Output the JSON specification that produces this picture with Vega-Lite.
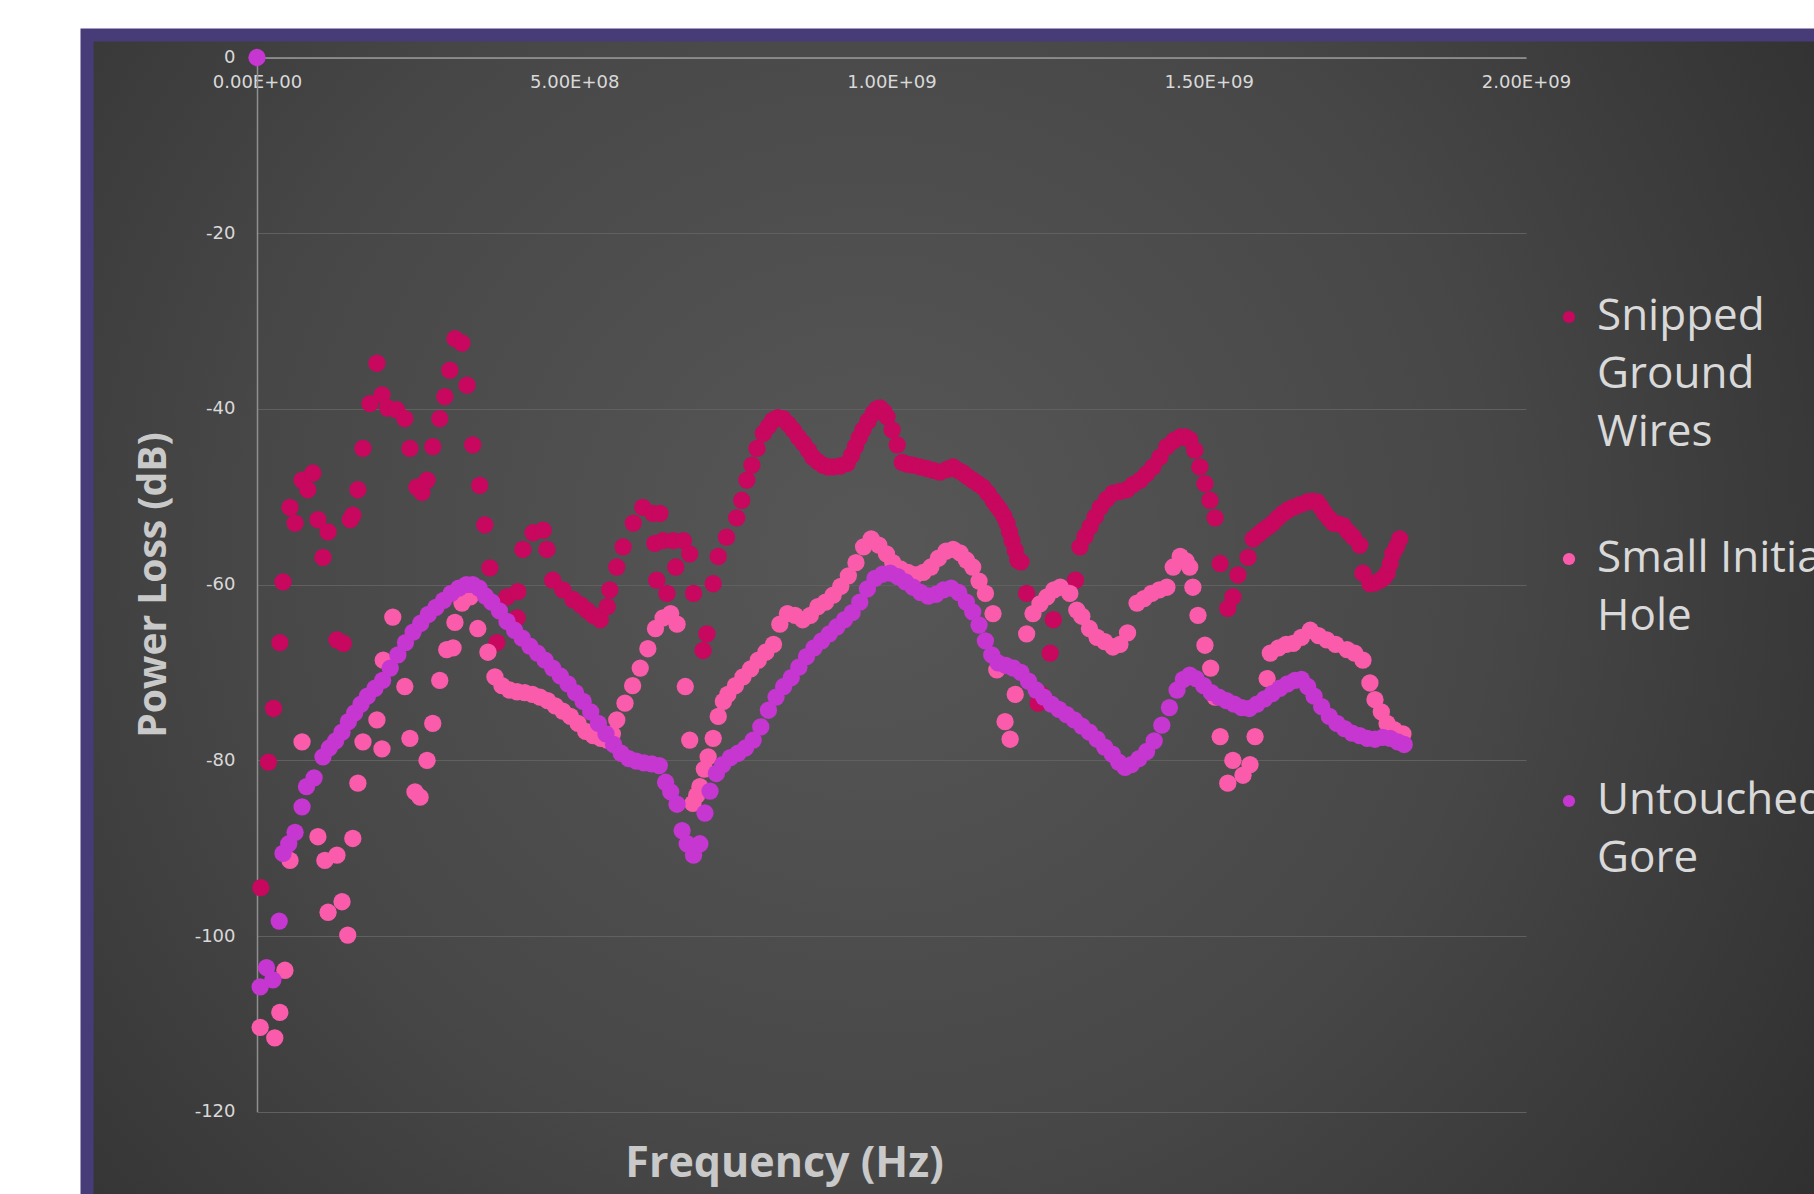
{
  "$schema": "https://vega.github.io/schema/vega-lite/v6.json",
  "width": 1734,
  "height": 1166,
  "autosize": {"type": "none"},
  "padding": {"left": 87, "top": 35, "right": -7, "bottom": -7},
  "background": "#ffffff",
  "config": {
    "view": {
      "fill": {"gradient": "radial", "x1": 0.45, "y1": 0.46, "r1": 0, "x2": 0.45, "y2": 0.46, "r2": 0.72,
        "stops": [{"offset": 0, "color": "#575757"}, {"offset": 0.5, "color": "#474747"}, {"offset": 1, "color": "#2b2b2b"}]},
      "stroke": "#483c78",
      "strokeWidth": 13
    },
    "style": {"guide-label": {"lineHeight": 58}}
  },
  "data": {"values": [
    {"s":"Snipped Ground Wires","f":6e6,"db":-94.5},
    {"s":"Snipped Ground Wires","f":18e6,"db":-80.2},
    {"s":"Snipped Ground Wires","f":26e6,"db":-74.1},
    {"s":"Snipped Ground Wires","f":36e6,"db":-66.6},
    {"s":"Snipped Ground Wires","f":41e6,"db":-59.7},
    {"s":"Snipped Ground Wires","f":52e6,"db":-51.2},
    {"s":"Snipped Ground Wires","f":60e6,"db":-53},
    {"s":"Snipped Ground Wires","f":71e6,"db":-48.1},
    {"s":"Snipped Ground Wires","f":80e6,"db":-49.2},
    {"s":"Snipped Ground Wires","f":88e6,"db":-47.3},
    {"s":"Snipped Ground Wires","f":96e6,"db":-52.6},
    {"s":"Snipped Ground Wires","f":104e6,"db":-56.9},
    {"s":"Snipped Ground Wires","f":112e6,"db":-54},
    {"s":"Snipped Ground Wires","f":126e6,"db":-66.3},
    {"s":"Snipped Ground Wires","f":136e6,"db":-66.7},
    {"s":"Snipped Ground Wires","f":147e6,"db":-52.6},
    {"s":"Snipped Ground Wires","f":151e6,"db":-52.1},
    {"s":"Snipped Ground Wires","f":159e6,"db":-49.2},
    {"s":"Snipped Ground Wires","f":167e6,"db":-44.5},
    {"s":"Snipped Ground Wires","f":178e6,"db":-39.4},
    {"s":"Snipped Ground Wires","f":189e6,"db":-34.8},
    {"s":"Snipped Ground Wires","f":197e6,"db":-38.4},
    {"s":"Snipped Ground Wires","f":206e6,"db":-39.9},
    {"s":"Snipped Ground Wires","f":220e6,"db":-40.1},
    {"s":"Snipped Ground Wires","f":233e6,"db":-41.1},
    {"s":"Snipped Ground Wires","f":241e6,"db":-44.5},
    {"s":"Snipped Ground Wires","f":252e6,"db":-48.9},
    {"s":"Snipped Ground Wires","f":260e6,"db":-49.5},
    {"s":"Snipped Ground Wires","f":268e6,"db":-48.1},
    {"s":"Snipped Ground Wires","f":277e6,"db":-44.3},
    {"s":"Snipped Ground Wires","f":288e6,"db":-41.1},
    {"s":"Snipped Ground Wires","f":296e6,"db":-38.6},
    {"s":"Snipped Ground Wires","f":304e6,"db":-35.6},
    {"s":"Snipped Ground Wires","f":312e6,"db":-32},
    {"s":"Snipped Ground Wires","f":323e6,"db":-32.5},
    {"s":"Snipped Ground Wires","f":331e6,"db":-37.3},
    {"s":"Snipped Ground Wires","f":340e6,"db":-44.1},
    {"s":"Snipped Ground Wires","f":351e6,"db":-48.7},
    {"s":"Snipped Ground Wires","f":359e6,"db":-53.2},
    {"s":"Snipped Ground Wires","f":367e6,"db":-58.1},
    {"s":"Snipped Ground Wires","f":378e6,"db":-66.6},
    {"s":"Snipped Ground Wires","f":394e6,"db":-61.4},
    {"s":"Snipped Ground Wires","f":410e6,"db":-63.8},
    {"s":"Snipped Ground Wires","f":411e6,"db":-60.8},
    {"s":"Snipped Ground Wires","f":419e6,"db":-56},
    {"s":"Snipped Ground Wires","f":435e6,"db":-54.1},
    {"s":"Snipped Ground Wires","f":451e6,"db":-53.8},
    {"s":"Snipped Ground Wires","f":457e6,"db":-56},
    {"s":"Snipped Ground Wires","f":466e6,"db":-59.5},
    {"s":"Snipped Ground Wires","f":482e6,"db":-60.6},
    {"s":"Snipped Ground Wires","f":498e6,"db":-61.7},
    {"s":"Snipped Ground Wires","f":510e6,"db":-62.3},
    {"s":"Snipped Ground Wires","f":520e6,"db":-62.9},
    {"s":"Snipped Ground Wires","f":530e6,"db":-63.5},
    {"s":"Snipped Ground Wires","f":541e6,"db":-64},
    {"s":"Snipped Ground Wires","f":552e6,"db":-62.5},
    {"s":"Snipped Ground Wires","f":556e6,"db":-60.6},
    {"s":"Snipped Ground Wires","f":567e6,"db":-58},
    {"s":"Snipped Ground Wires","f":577e6,"db":-55.7},
    {"s":"Snipped Ground Wires","f":593e6,"db":-53},
    {"s":"Snipped Ground Wires","f":608e6,"db":-51.2},
    {"s":"Snipped Ground Wires","f":624e6,"db":-51.9},
    {"s":"Snipped Ground Wires","f":627e6,"db":-55.3},
    {"s":"Snipped Ground Wires","f":630e6,"db":-59.5},
    {"s":"Snipped Ground Wires","f":635e6,"db":-51.9},
    {"s":"Snipped Ground Wires","f":640e6,"db":-55},
    {"s":"Snipped Ground Wires","f":646e6,"db":-61},
    {"s":"Snipped Ground Wires","f":656e6,"db":-55},
    {"s":"Snipped Ground Wires","f":660e6,"db":-58},
    {"s":"Snipped Ground Wires","f":672e6,"db":-55},
    {"s":"Snipped Ground Wires","f":682e6,"db":-56.5},
    {"s":"Snipped Ground Wires","f":688e6,"db":-61},
    {"s":"Snipped Ground Wires","f":703e6,"db":-67.5},
    {"s":"Snipped Ground Wires","f":709e6,"db":-65.6},
    {"s":"Snipped Ground Wires","f":719e6,"db":-59.9},
    {"s":"Snipped Ground Wires","f":727e6,"db":-56.8},
    {"s":"Snipped Ground Wires","f":740e6,"db":-54.6},
    {"s":"Snipped Ground Wires","f":756e6,"db":-52.4},
    {"s":"Snipped Ground Wires","f":764e6,"db":-50.4},
    {"s":"Snipped Ground Wires","f":772e6,"db":-48.1},
    {"s":"Snipped Ground Wires","f":780e6,"db":-46.4},
    {"s":"Snipped Ground Wires","f":788e6,"db":-44.5},
    {"s":"Snipped Ground Wires","f":798e6,"db":-42.8},
    {"s":"Snipped Ground Wires","f":806e6,"db":-42},
    {"s":"Snipped Ground Wires","f":813e6,"db":-41.3},
    {"s":"Snipped Ground Wires","f":821e6,"db":-41},
    {"s":"Snipped Ground Wires","f":829e6,"db":-41.1},
    {"s":"Snipped Ground Wires","f":837e6,"db":-41.7},
    {"s":"Snipped Ground Wires","f":845e6,"db":-42.4},
    {"s":"Snipped Ground Wires","f":853e6,"db":-43.2},
    {"s":"Snipped Ground Wires","f":861e6,"db":-43.9},
    {"s":"Snipped Ground Wires","f":869e6,"db":-44.7},
    {"s":"Snipped Ground Wires","f":876e6,"db":-45.5},
    {"s":"Snipped Ground Wires","f":884e6,"db":-46},
    {"s":"Snipped Ground Wires","f":892e6,"db":-46.4},
    {"s":"Snipped Ground Wires","f":900e6,"db":-46.6},
    {"s":"Snipped Ground Wires","f":908e6,"db":-46.6},
    {"s":"Snipped Ground Wires","f":919e6,"db":-46.5},
    {"s":"Snipped Ground Wires","f":930e6,"db":-46.2},
    {"s":"Snipped Ground Wires","f":937e6,"db":-45.3},
    {"s":"Snipped Ground Wires","f":943e6,"db":-44.3},
    {"s":"Snipped Ground Wires","f":949e6,"db":-43.3},
    {"s":"Snipped Ground Wires","f":955e6,"db":-42.4},
    {"s":"Snipped Ground Wires","f":963e6,"db":-41.4},
    {"s":"Snipped Ground Wires","f":971e6,"db":-40.5},
    {"s":"Snipped Ground Wires","f":977e6,"db":-40},
    {"s":"Snipped Ground Wires","f":982e6,"db":-39.9},
    {"s":"Snipped Ground Wires","f":988e6,"db":-40.3},
    {"s":"Snipped Ground Wires","f":993e6,"db":-40.9},
    {"s":"Snipped Ground Wires","f":1001e6,"db":-42.4},
    {"s":"Snipped Ground Wires","f":1009e6,"db":-44.1},
    {"s":"Snipped Ground Wires","f":1017e6,"db":-46.1},
    {"s":"Snipped Ground Wires","f":1025e6,"db":-46.3},
    {"s":"Snipped Ground Wires","f":1034e6,"db":-46.4},
    {"s":"Snipped Ground Wires","f":1045e6,"db":-46.6},
    {"s":"Snipped Ground Wires","f":1056e6,"db":-46.8},
    {"s":"Snipped Ground Wires","f":1066e6,"db":-47},
    {"s":"Snipped Ground Wires","f":1076e6,"db":-47.2},
    {"s":"Snipped Ground Wires","f":1087e6,"db":-46.9},
    {"s":"Snipped Ground Wires","f":1097e6,"db":-46.6},
    {"s":"Snipped Ground Wires","f":1105e6,"db":-47},
    {"s":"Snipped Ground Wires","f":1113e6,"db":-47.3},
    {"s":"Snipped Ground Wires","f":1120e6,"db":-47.7},
    {"s":"Snipped Ground Wires","f":1128e6,"db":-48.1},
    {"s":"Snipped Ground Wires","f":1136e6,"db":-48.5},
    {"s":"Snipped Ground Wires","f":1144e6,"db":-48.9},
    {"s":"Snipped Ground Wires","f":1152e6,"db":-49.6},
    {"s":"Snipped Ground Wires","f":1160e6,"db":-50.4},
    {"s":"Snipped Ground Wires","f":1166e6,"db":-51},
    {"s":"Snipped Ground Wires","f":1171e6,"db":-51.5},
    {"s":"Snipped Ground Wires","f":1177e6,"db":-52.2},
    {"s":"Snipped Ground Wires","f":1182e6,"db":-53},
    {"s":"Snipped Ground Wires","f":1186e6,"db":-54},
    {"s":"Snipped Ground Wires","f":1190e6,"db":-55},
    {"s":"Snipped Ground Wires","f":1195e6,"db":-56.1},
    {"s":"Snipped Ground Wires","f":1199e6,"db":-57.2},
    {"s":"Snipped Ground Wires","f":1204e6,"db":-57.4},
    {"s":"Snipped Ground Wires","f":1213e6,"db":-61},
    {"s":"Snipped Ground Wires","f":1231e6,"db":-73.5},
    {"s":"Snipped Ground Wires","f":1236e6,"db":-72.5},
    {"s":"Snipped Ground Wires","f":1250e6,"db":-67.8},
    {"s":"Snipped Ground Wires","f":1255e6,"db":-64},
    {"s":"Snipped Ground Wires","f":1290e6,"db":-59.5},
    {"s":"Snipped Ground Wires","f":1297e6,"db":-55.7},
    {"s":"Snipped Ground Wires","f":1305e6,"db":-54.5},
    {"s":"Snipped Ground Wires","f":1313e6,"db":-53.4},
    {"s":"Snipped Ground Wires","f":1321e6,"db":-52.3},
    {"s":"Snipped Ground Wires","f":1329e6,"db":-51.2},
    {"s":"Snipped Ground Wires","f":1339e6,"db":-50.3},
    {"s":"Snipped Ground Wires","f":1349e6,"db":-49.6},
    {"s":"Snipped Ground Wires","f":1360e6,"db":-49.4},
    {"s":"Snipped Ground Wires","f":1371e6,"db":-49.2},
    {"s":"Snipped Ground Wires","f":1381e6,"db":-48.6},
    {"s":"Snipped Ground Wires","f":1392e6,"db":-48.1},
    {"s":"Snipped Ground Wires","f":1402e6,"db":-47.4},
    {"s":"Snipped Ground Wires","f":1412e6,"db":-46.6},
    {"s":"Snipped Ground Wires","f":1423e6,"db":-45.5},
    {"s":"Snipped Ground Wires","f":1434e6,"db":-44.3},
    {"s":"Snipped Ground Wires","f":1445e6,"db":-43.6},
    {"s":"Snipped Ground Wires","f":1455e6,"db":-43.2},
    {"s":"Snipped Ground Wires","f":1463e6,"db":-43.2},
    {"s":"Snipped Ground Wires","f":1470e6,"db":-43.5},
    {"s":"Snipped Ground Wires","f":1478e6,"db":-44.7},
    {"s":"Snipped Ground Wires","f":1486e6,"db":-46.6},
    {"s":"Snipped Ground Wires","f":1494e6,"db":-48.5},
    {"s":"Snipped Ground Wires","f":1502e6,"db":-50.4},
    {"s":"Snipped Ground Wires","f":1510e6,"db":-52.4},
    {"s":"Snipped Ground Wires","f":1518e6,"db":-57.6},
    {"s":"Snipped Ground Wires","f":1530e6,"db":-62.7},
    {"s":"Snipped Ground Wires","f":1538e6,"db":-61.4},
    {"s":"Snipped Ground Wires","f":1546e6,"db":-58.9},
    {"s":"Snipped Ground Wires","f":1562e6,"db":-56.9},
    {"s":"Snipped Ground Wires","f":1570e6,"db":-54.8},
    {"s":"Snipped Ground Wires","f":1578e6,"db":-54.3},
    {"s":"Snipped Ground Wires","f":1586e6,"db":-53.8},
    {"s":"Snipped Ground Wires","f":1594e6,"db":-53.4},
    {"s":"Snipped Ground Wires","f":1601e6,"db":-53},
    {"s":"Snipped Ground Wires","f":1609e6,"db":-52.4},
    {"s":"Snipped Ground Wires","f":1617e6,"db":-51.9},
    {"s":"Snipped Ground Wires","f":1625e6,"db":-51.5},
    {"s":"Snipped Ground Wires","f":1633e6,"db":-51.2},
    {"s":"Snipped Ground Wires","f":1644e6,"db":-50.9},
    {"s":"Snipped Ground Wires","f":1655e6,"db":-50.6},
    {"s":"Snipped Ground Wires","f":1663e6,"db":-50.5},
    {"s":"Snipped Ground Wires","f":1671e6,"db":-50.6},
    {"s":"Snipped Ground Wires","f":1677e6,"db":-51.2},
    {"s":"Snipped Ground Wires","f":1683e6,"db":-51.9},
    {"s":"Snipped Ground Wires","f":1690e6,"db":-52.5},
    {"s":"Snipped Ground Wires","f":1696e6,"db":-53},
    {"s":"Snipped Ground Wires","f":1704e6,"db":-53.1},
    {"s":"Snipped Ground Wires","f":1712e6,"db":-53.3},
    {"s":"Snipped Ground Wires","f":1720e6,"db":-54},
    {"s":"Snipped Ground Wires","f":1728e6,"db":-54.6},
    {"s":"Snipped Ground Wires","f":1738e6,"db":-55.5},
    {"s":"Snipped Ground Wires","f":1743e6,"db":-58.7},
    {"s":"Snipped Ground Wires","f":1754e6,"db":-59.9},
    {"s":"Snipped Ground Wires","f":1762e6,"db":-59.8},
    {"s":"Snipped Ground Wires","f":1770e6,"db":-59.5},
    {"s":"Snipped Ground Wires","f":1776e6,"db":-59.2},
    {"s":"Snipped Ground Wires","f":1781e6,"db":-58.7},
    {"s":"Snipped Ground Wires","f":1786e6,"db":-57.6},
    {"s":"Snipped Ground Wires","f":1790e6,"db":-56.5},
    {"s":"Snipped Ground Wires","f":1796e6,"db":-55.7},
    {"s":"Snipped Ground Wires","f":1801e6,"db":-54.8},

    {"s":"Small Initial Hole","f":5e6,"db":-110.4},
    {"s":"Small Initial Hole","f":28e6,"db":-111.6},
    {"s":"Small Initial Hole","f":36e6,"db":-108.7},
    {"s":"Small Initial Hole","f":44e6,"db":-103.9},
    {"s":"Small Initial Hole","f":52e6,"db":-91.4},
    {"s":"Small Initial Hole","f":71e6,"db":-77.9},
    {"s":"Small Initial Hole","f":96e6,"db":-88.7},
    {"s":"Small Initial Hole","f":107e6,"db":-91.4},
    {"s":"Small Initial Hole","f":112e6,"db":-97.3},
    {"s":"Small Initial Hole","f":126e6,"db":-90.8},
    {"s":"Small Initial Hole","f":134e6,"db":-96.1},
    {"s":"Small Initial Hole","f":143e6,"db":-99.9},
    {"s":"Small Initial Hole","f":151e6,"db":-88.9},
    {"s":"Small Initial Hole","f":159e6,"db":-82.6},
    {"s":"Small Initial Hole","f":167e6,"db":-77.9},
    {"s":"Small Initial Hole","f":189e6,"db":-75.4},
    {"s":"Small Initial Hole","f":197e6,"db":-78.7},
    {"s":"Small Initial Hole","f":199e6,"db":-68.6},
    {"s":"Small Initial Hole","f":214e6,"db":-63.7},
    {"s":"Small Initial Hole","f":233e6,"db":-71.6},
    {"s":"Small Initial Hole","f":241e6,"db":-77.5},
    {"s":"Small Initial Hole","f":249e6,"db":-83.6},
    {"s":"Small Initial Hole","f":257e6,"db":-84.2},
    {"s":"Small Initial Hole","f":268e6,"db":-80},
    {"s":"Small Initial Hole","f":277e6,"db":-75.8},
    {"s":"Small Initial Hole","f":288e6,"db":-70.9},
    {"s":"Small Initial Hole","f":299e6,"db":-67.4},
    {"s":"Small Initial Hole","f":309e6,"db":-67.2},
    {"s":"Small Initial Hole","f":312e6,"db":-64.3},
    {"s":"Small Initial Hole","f":323e6,"db":-62.1},
    {"s":"Small Initial Hole","f":336e6,"db":-61.4},
    {"s":"Small Initial Hole","f":348e6,"db":-65},
    {"s":"Small Initial Hole","f":364e6,"db":-67.7},
    {"s":"Small Initial Hole","f":375e6,"db":-70.5},
    {"s":"Small Initial Hole","f":386e6,"db":-71.5},
    {"s":"Small Initial Hole","f":398e6,"db":-72},
    {"s":"Small Initial Hole","f":410e6,"db":-72.2},
    {"s":"Small Initial Hole","f":422e6,"db":-72.3},
    {"s":"Small Initial Hole","f":434e6,"db":-72.5},
    {"s":"Small Initial Hole","f":446e6,"db":-72.8},
    {"s":"Small Initial Hole","f":458e6,"db":-73.2},
    {"s":"Small Initial Hole","f":470e6,"db":-73.8},
    {"s":"Small Initial Hole","f":482e6,"db":-74.4},
    {"s":"Small Initial Hole","f":494e6,"db":-75},
    {"s":"Small Initial Hole","f":506e6,"db":-75.8},
    {"s":"Small Initial Hole","f":518e6,"db":-76.7},
    {"s":"Small Initial Hole","f":530e6,"db":-77.2},
    {"s":"Small Initial Hole","f":542e6,"db":-77.5},
    {"s":"Small Initial Hole","f":552e6,"db":-77.7},
    {"s":"Small Initial Hole","f":560e6,"db":-77},
    {"s":"Small Initial Hole","f":567e6,"db":-75.4},
    {"s":"Small Initial Hole","f":580e6,"db":-73.5},
    {"s":"Small Initial Hole","f":592e6,"db":-71.5},
    {"s":"Small Initial Hole","f":604e6,"db":-69.5},
    {"s":"Small Initial Hole","f":616e6,"db":-67.3},
    {"s":"Small Initial Hole","f":628e6,"db":-65},
    {"s":"Small Initial Hole","f":640e6,"db":-63.8},
    {"s":"Small Initial Hole","f":652e6,"db":-63.3},
    {"s":"Small Initial Hole","f":662e6,"db":-64.5},
    {"s":"Small Initial Hole","f":675e6,"db":-71.6},
    {"s":"Small Initial Hole","f":682e6,"db":-77.7},
    {"s":"Small Initial Hole","f":687e6,"db":-84.9},
    {"s":"Small Initial Hole","f":693e6,"db":-84},
    {"s":"Small Initial Hole","f":698e6,"db":-83},
    {"s":"Small Initial Hole","f":705e6,"db":-81},
    {"s":"Small Initial Hole","f":711e6,"db":-79.6},
    {"s":"Small Initial Hole","f":719e6,"db":-77.5},
    {"s":"Small Initial Hole","f":727e6,"db":-75},
    {"s":"Small Initial Hole","f":735e6,"db":-73.3},
    {"s":"Small Initial Hole","f":742e6,"db":-72.5},
    {"s":"Small Initial Hole","f":754e6,"db":-71.5},
    {"s":"Small Initial Hole","f":766e6,"db":-70.5},
    {"s":"Small Initial Hole","f":778e6,"db":-69.6},
    {"s":"Small Initial Hole","f":790e6,"db":-68.6},
    {"s":"Small Initial Hole","f":802e6,"db":-67.7},
    {"s":"Small Initial Hole","f":814e6,"db":-66.8},
    {"s":"Small Initial Hole","f":824e6,"db":-64.5},
    {"s":"Small Initial Hole","f":836e6,"db":-63.3},
    {"s":"Small Initial Hole","f":848e6,"db":-63.5},
    {"s":"Small Initial Hole","f":860e6,"db":-64},
    {"s":"Small Initial Hole","f":872e6,"db":-63.5},
    {"s":"Small Initial Hole","f":884e6,"db":-62.5},
    {"s":"Small Initial Hole","f":896e6,"db":-62},
    {"s":"Small Initial Hole","f":908e6,"db":-61.2},
    {"s":"Small Initial Hole","f":920e6,"db":-60.2},
    {"s":"Small Initial Hole","f":932e6,"db":-59},
    {"s":"Small Initial Hole","f":944e6,"db":-57.5},
    {"s":"Small Initial Hole","f":956e6,"db":-55.7},
    {"s":"Small Initial Hole","f":968e6,"db":-54.8},
    {"s":"Small Initial Hole","f":980e6,"db":-55.5},
    {"s":"Small Initial Hole","f":992e6,"db":-56.5},
    {"s":"Small Initial Hole","f":1002e6,"db":-57.5},
    {"s":"Small Initial Hole","f":1014e6,"db":-58.2},
    {"s":"Small Initial Hole","f":1026e6,"db":-58.6},
    {"s":"Small Initial Hole","f":1038e6,"db":-58.9},
    {"s":"Small Initial Hole","f":1050e6,"db":-58.6},
    {"s":"Small Initial Hole","f":1062e6,"db":-58},
    {"s":"Small Initial Hole","f":1074e6,"db":-57},
    {"s":"Small Initial Hole","f":1086e6,"db":-56.2},
    {"s":"Small Initial Hole","f":1097e6,"db":-56},
    {"s":"Small Initial Hole","f":1108e6,"db":-56.4},
    {"s":"Small Initial Hole","f":1118e6,"db":-57.2},
    {"s":"Small Initial Hole","f":1128e6,"db":-58},
    {"s":"Small Initial Hole","f":1138e6,"db":-59.6},
    {"s":"Small Initial Hole","f":1148e6,"db":-61},
    {"s":"Small Initial Hole","f":1160e6,"db":-63.3},
    {"s":"Small Initial Hole","f":1166e6,"db":-69.7},
    {"s":"Small Initial Hole","f":1179e6,"db":-75.6},
    {"s":"Small Initial Hole","f":1187e6,"db":-77.6},
    {"s":"Small Initial Hole","f":1195e6,"db":-72.5},
    {"s":"Small Initial Hole","f":1213e6,"db":-65.6},
    {"s":"Small Initial Hole","f":1223e6,"db":-63.3},
    {"s":"Small Initial Hole","f":1234e6,"db":-62.2},
    {"s":"Small Initial Hole","f":1245e6,"db":-61.4},
    {"s":"Small Initial Hole","f":1256e6,"db":-60.6},
    {"s":"Small Initial Hole","f":1266e6,"db":-60.3},
    {"s":"Small Initial Hole","f":1281e6,"db":-61},
    {"s":"Small Initial Hole","f":1292e6,"db":-62.9},
    {"s":"Small Initial Hole","f":1300e6,"db":-63.6},
    {"s":"Small Initial Hole","f":1312e6,"db":-65},
    {"s":"Small Initial Hole","f":1324e6,"db":-66},
    {"s":"Small Initial Hole","f":1336e6,"db":-66.5},
    {"s":"Small Initial Hole","f":1349e6,"db":-67.1},
    {"s":"Small Initial Hole","f":1360e6,"db":-66.8},
    {"s":"Small Initial Hole","f":1372e6,"db":-65.5},
    {"s":"Small Initial Hole","f":1387e6,"db":-62.1},
    {"s":"Small Initial Hole","f":1398e6,"db":-61.6},
    {"s":"Small Initial Hole","f":1410e6,"db":-61},
    {"s":"Small Initial Hole","f":1422e6,"db":-60.6},
    {"s":"Small Initial Hole","f":1434e6,"db":-60.3},
    {"s":"Small Initial Hole","f":1444e6,"db":-58},
    {"s":"Small Initial Hole","f":1455e6,"db":-56.8},
    {"s":"Small Initial Hole","f":1464e6,"db":-57.3},
    {"s":"Small Initial Hole","f":1470e6,"db":-58},
    {"s":"Small Initial Hole","f":1475e6,"db":-60.3},
    {"s":"Small Initial Hole","f":1483e6,"db":-63.5},
    {"s":"Small Initial Hole","f":1494e6,"db":-66.9},
    {"s":"Small Initial Hole","f":1503e6,"db":-69.5},
    {"s":"Small Initial Hole","f":1510e6,"db":-72.8},
    {"s":"Small Initial Hole","f":1518e6,"db":-77.3},
    {"s":"Small Initial Hole","f":1530e6,"db":-82.6},
    {"s":"Small Initial Hole","f":1538e6,"db":-80},
    {"s":"Small Initial Hole","f":1554e6,"db":-81.7},
    {"s":"Small Initial Hole","f":1565e6,"db":-80.5},
    {"s":"Small Initial Hole","f":1573e6,"db":-77.3},
    {"s":"Small Initial Hole","f":1592e6,"db":-70.7},
    {"s":"Small Initial Hole","f":1597e6,"db":-67.8},
    {"s":"Small Initial Hole","f":1610e6,"db":-67.2},
    {"s":"Small Initial Hole","f":1622e6,"db":-66.8},
    {"s":"Small Initial Hole","f":1633e6,"db":-66.7},
    {"s":"Small Initial Hole","f":1646e6,"db":-66},
    {"s":"Small Initial Hole","f":1660e6,"db":-65.2},
    {"s":"Small Initial Hole","f":1673e6,"db":-65.8},
    {"s":"Small Initial Hole","f":1686e6,"db":-66.3},
    {"s":"Small Initial Hole","f":1700e6,"db":-66.8},
    {"s":"Small Initial Hole","f":1718e6,"db":-67.4},
    {"s":"Small Initial Hole","f":1730e6,"db":-67.8},
    {"s":"Small Initial Hole","f":1743e6,"db":-68.6},
    {"s":"Small Initial Hole","f":1754e6,"db":-71.2},
    {"s":"Small Initial Hole","f":1762e6,"db":-73.1},
    {"s":"Small Initial Hole","f":1772e6,"db":-74.5},
    {"s":"Small Initial Hole","f":1781e6,"db":-75.8},
    {"s":"Small Initial Hole","f":1792e6,"db":-76.5},
    {"s":"Small Initial Hole","f":1806e6,"db":-77},

    {"s":"Untouched Gore","f":0,"db":0},
    {"s":"Untouched Gore","f":5e6,"db":-105.8},
    {"s":"Untouched Gore","f":15e6,"db":-103.6},
    {"s":"Untouched Gore","f":25e6,"db":-105},
    {"s":"Untouched Gore","f":35e6,"db":-98.3},
    {"s":"Untouched Gore","f":41e6,"db":-90.6},
    {"s":"Untouched Gore","f":50e6,"db":-89.5},
    {"s":"Untouched Gore","f":60e6,"db":-88.2},
    {"s":"Untouched Gore","f":71e6,"db":-85.3},
    {"s":"Untouched Gore","f":78e6,"db":-83},
    {"s":"Untouched Gore","f":90e6,"db":-82},
    {"s":"Untouched Gore","f":104e6,"db":-79.6},
    {"s":"Untouched Gore","f":114e6,"db":-78.6},
    {"s":"Untouched Gore","f":124e6,"db":-77.8},
    {"s":"Untouched Gore","f":134e6,"db":-76.8},
    {"s":"Untouched Gore","f":144e6,"db":-75.6},
    {"s":"Untouched Gore","f":154e6,"db":-74.6},
    {"s":"Untouched Gore","f":164e6,"db":-73.6},
    {"s":"Untouched Gore","f":174e6,"db":-72.7},
    {"s":"Untouched Gore","f":186e6,"db":-71.8},
    {"s":"Untouched Gore","f":198e6,"db":-70.9},
    {"s":"Untouched Gore","f":210e6,"db":-69.5},
    {"s":"Untouched Gore","f":222e6,"db":-68},
    {"s":"Untouched Gore","f":234e6,"db":-66.6},
    {"s":"Untouched Gore","f":246e6,"db":-65.4},
    {"s":"Untouched Gore","f":258e6,"db":-64.4},
    {"s":"Untouched Gore","f":270e6,"db":-63.4},
    {"s":"Untouched Gore","f":282e6,"db":-62.6},
    {"s":"Untouched Gore","f":294e6,"db":-61.8},
    {"s":"Untouched Gore","f":306e6,"db":-61},
    {"s":"Untouched Gore","f":318e6,"db":-60.4},
    {"s":"Untouched Gore","f":330e6,"db":-60},
    {"s":"Untouched Gore","f":340e6,"db":-60},
    {"s":"Untouched Gore","f":350e6,"db":-60.4},
    {"s":"Untouched Gore","f":360e6,"db":-61.3},
    {"s":"Untouched Gore","f":370e6,"db":-62},
    {"s":"Untouched Gore","f":382e6,"db":-63},
    {"s":"Untouched Gore","f":394e6,"db":-64.2},
    {"s":"Untouched Gore","f":406e6,"db":-65.2},
    {"s":"Untouched Gore","f":418e6,"db":-66.1},
    {"s":"Untouched Gore","f":430e6,"db":-67},
    {"s":"Untouched Gore","f":442e6,"db":-67.8},
    {"s":"Untouched Gore","f":454e6,"db":-68.6},
    {"s":"Untouched Gore","f":466e6,"db":-69.5},
    {"s":"Untouched Gore","f":478e6,"db":-70.4},
    {"s":"Untouched Gore","f":490e6,"db":-71.3},
    {"s":"Untouched Gore","f":502e6,"db":-72.3},
    {"s":"Untouched Gore","f":514e6,"db":-73.3},
    {"s":"Untouched Gore","f":526e6,"db":-74.5},
    {"s":"Untouched Gore","f":538e6,"db":-75.8},
    {"s":"Untouched Gore","f":550e6,"db":-77},
    {"s":"Untouched Gore","f":562e6,"db":-78.2},
    {"s":"Untouched Gore","f":574e6,"db":-79.2},
    {"s":"Untouched Gore","f":586e6,"db":-79.8},
    {"s":"Untouched Gore","f":598e6,"db":-80.1},
    {"s":"Untouched Gore","f":610e6,"db":-80.3},
    {"s":"Untouched Gore","f":622e6,"db":-80.4},
    {"s":"Untouched Gore","f":634e6,"db":-80.6},
    {"s":"Untouched Gore","f":644e6,"db":-82.5},
    {"s":"Untouched Gore","f":652e6,"db":-83.6},
    {"s":"Untouched Gore","f":662e6,"db":-85},
    {"s":"Untouched Gore","f":670e6,"db":-88},
    {"s":"Untouched Gore","f":678e6,"db":-89.5},
    {"s":"Untouched Gore","f":688e6,"db":-90.8},
    {"s":"Untouched Gore","f":698e6,"db":-89.5},
    {"s":"Untouched Gore","f":706e6,"db":-86},
    {"s":"Untouched Gore","f":714e6,"db":-83.5},
    {"s":"Untouched Gore","f":724e6,"db":-81.5},
    {"s":"Untouched Gore","f":734e6,"db":-80.5},
    {"s":"Untouched Gore","f":746e6,"db":-79.7},
    {"s":"Untouched Gore","f":758e6,"db":-79.2},
    {"s":"Untouched Gore","f":770e6,"db":-78.6},
    {"s":"Untouched Gore","f":782e6,"db":-77.7},
    {"s":"Untouched Gore","f":794e6,"db":-76.2},
    {"s":"Untouched Gore","f":806e6,"db":-74.3},
    {"s":"Untouched Gore","f":818e6,"db":-72.8},
    {"s":"Untouched Gore","f":830e6,"db":-71.6},
    {"s":"Untouched Gore","f":842e6,"db":-70.6},
    {"s":"Untouched Gore","f":854e6,"db":-69.4},
    {"s":"Untouched Gore","f":866e6,"db":-68.2},
    {"s":"Untouched Gore","f":878e6,"db":-67.2},
    {"s":"Untouched Gore","f":890e6,"db":-66.4},
    {"s":"Untouched Gore","f":902e6,"db":-65.6},
    {"s":"Untouched Gore","f":914e6,"db":-64.8},
    {"s":"Untouched Gore","f":926e6,"db":-64},
    {"s":"Untouched Gore","f":938e6,"db":-63.2},
    {"s":"Untouched Gore","f":950e6,"db":-62},
    {"s":"Untouched Gore","f":962e6,"db":-60.5},
    {"s":"Untouched Gore","f":974e6,"db":-59.3},
    {"s":"Untouched Gore","f":986e6,"db":-58.8},
    {"s":"Untouched Gore","f":998e6,"db":-58.7},
    {"s":"Untouched Gore","f":1010e6,"db":-59.1},
    {"s":"Untouched Gore","f":1022e6,"db":-59.7},
    {"s":"Untouched Gore","f":1034e6,"db":-60.3},
    {"s":"Untouched Gore","f":1046e6,"db":-60.9},
    {"s":"Untouched Gore","f":1058e6,"db":-61.3},
    {"s":"Untouched Gore","f":1070e6,"db":-61.1},
    {"s":"Untouched Gore","f":1082e6,"db":-60.6},
    {"s":"Untouched Gore","f":1094e6,"db":-60.4},
    {"s":"Untouched Gore","f":1106e6,"db":-60.9},
    {"s":"Untouched Gore","f":1118e6,"db":-62},
    {"s":"Untouched Gore","f":1128e6,"db":-63.1},
    {"s":"Untouched Gore","f":1138e6,"db":-64.6},
    {"s":"Untouched Gore","f":1148e6,"db":-66.4},
    {"s":"Untouched Gore","f":1158e6,"db":-68},
    {"s":"Untouched Gore","f":1168e6,"db":-68.9},
    {"s":"Untouched Gore","f":1180e6,"db":-69.2},
    {"s":"Untouched Gore","f":1192e6,"db":-69.5},
    {"s":"Untouched Gore","f":1204e6,"db":-70},
    {"s":"Untouched Gore","f":1216e6,"db":-71},
    {"s":"Untouched Gore","f":1228e6,"db":-72},
    {"s":"Untouched Gore","f":1240e6,"db":-72.8},
    {"s":"Untouched Gore","f":1252e6,"db":-73.6},
    {"s":"Untouched Gore","f":1264e6,"db":-74.2},
    {"s":"Untouched Gore","f":1276e6,"db":-74.8},
    {"s":"Untouched Gore","f":1288e6,"db":-75.4},
    {"s":"Untouched Gore","f":1300e6,"db":-76.1},
    {"s":"Untouched Gore","f":1312e6,"db":-76.8},
    {"s":"Untouched Gore","f":1324e6,"db":-77.6},
    {"s":"Untouched Gore","f":1336e6,"db":-78.5},
    {"s":"Untouched Gore","f":1348e6,"db":-79.3},
    {"s":"Untouched Gore","f":1358e6,"db":-80.2},
    {"s":"Untouched Gore","f":1368e6,"db":-80.8},
    {"s":"Untouched Gore","f":1378e6,"db":-80.5},
    {"s":"Untouched Gore","f":1390e6,"db":-79.8},
    {"s":"Untouched Gore","f":1402e6,"db":-79},
    {"s":"Untouched Gore","f":1414e6,"db":-77.8},
    {"s":"Untouched Gore","f":1426e6,"db":-76},
    {"s":"Untouched Gore","f":1438e6,"db":-74},
    {"s":"Untouched Gore","f":1450e6,"db":-72},
    {"s":"Untouched Gore","f":1460e6,"db":-70.8},
    {"s":"Untouched Gore","f":1470e6,"db":-70.3},
    {"s":"Untouched Gore","f":1480e6,"db":-70.7},
    {"s":"Untouched Gore","f":1492e6,"db":-71.5},
    {"s":"Untouched Gore","f":1504e6,"db":-72.3},
    {"s":"Untouched Gore","f":1516e6,"db":-72.8},
    {"s":"Untouched Gore","f":1528e6,"db":-73.2},
    {"s":"Untouched Gore","f":1540e6,"db":-73.6},
    {"s":"Untouched Gore","f":1552e6,"db":-74},
    {"s":"Untouched Gore","f":1564e6,"db":-74.1},
    {"s":"Untouched Gore","f":1576e6,"db":-73.6},
    {"s":"Untouched Gore","f":1588e6,"db":-73},
    {"s":"Untouched Gore","f":1600e6,"db":-72.4},
    {"s":"Untouched Gore","f":1612e6,"db":-71.8},
    {"s":"Untouched Gore","f":1624e6,"db":-71.3},
    {"s":"Untouched Gore","f":1636e6,"db":-70.9},
    {"s":"Untouched Gore","f":1646e6,"db":-70.8},
    {"s":"Untouched Gore","f":1656e6,"db":-71.6},
    {"s":"Untouched Gore","f":1666e6,"db":-72.7},
    {"s":"Untouched Gore","f":1678e6,"db":-73.9},
    {"s":"Untouched Gore","f":1690e6,"db":-75},
    {"s":"Untouched Gore","f":1702e6,"db":-75.8},
    {"s":"Untouched Gore","f":1714e6,"db":-76.4},
    {"s":"Untouched Gore","f":1726e6,"db":-76.9},
    {"s":"Untouched Gore","f":1738e6,"db":-77.2},
    {"s":"Untouched Gore","f":1750e6,"db":-77.5},
    {"s":"Untouched Gore","f":1762e6,"db":-77.6},
    {"s":"Untouched Gore","f":1774e6,"db":-77.4},
    {"s":"Untouched Gore","f":1786e6,"db":-77.5},
    {"s":"Untouched Gore","f":1798e6,"db":-77.9},
    {"s":"Untouched Gore","f":1808e6,"db":-78.2}
  ]},
  "mark": {"type": "circle", "size": 300, "opacity": 1},
  "encoding": {
    "x": {
      "field": "f", "type": "quantitative",
      "scale": {"domain": [0, 2000000000], "range": [170, 1439], "nice": false, "zero": false},
      "axis": {
        "orient": "top", "offset": -22.5,
        "values": [0, 500000000, 1000000000, 1500000000, 2000000000],
        "labelExpr": "datum.value == 0 ? '0.00E+00' : (datum.value < 1000000000 ? format(datum.value / 100000000, '.2f') + 'E+08' : format(datum.value / 1000000000, '.2f') + 'E+09')",
        "grid": false, "ticks": false, "tickSize": 0,
        "domainColor": "#9a9a9a", "domainWidth": 1.5,
        "labelColor": "#d9d9d9", "labelFont": "DejaVu Sans", "labelFontSize": 18,
        "labelPadding": -25, "labelBaseline": "middle", "labelFlush": false, "labelOverlap": false,
        "title": "Frequency (Hz)", "titleX": 697, "titleY": 1118.5, "titleAngle": 0,
        "titleAlign": "center", "titleBaseline": "alphabetic",
        "titleFont": "Open Sans", "titleFontSize": 43, "titleFontWeight": "bold", "titleColor": "#c9c9c9"
      }
    },
    "y": {
      "field": "db", "type": "quantitative",
      "scale": {"domain": [-120, 0], "range": [1076.7, 22.5], "nice": false, "zero": false},
      "axis": {
        "orient": "left", "offset": -170,
        "values": [-120, -100, -80, -60, -40, -20, 0],
        "labelExpr": "'' + datum.value",
        "grid": true, "gridColor": "#606060", "gridWidth": 1.2,
        "ticks": false, "tickSize": 0,
        "domainColor": "#8f8f8f", "domainWidth": 1.5,
        "labelColor": "#d9d9d9", "labelFont": "DejaVu Sans", "labelFontSize": 18,
        "labelPadding": 22, "labelFlush": false, "labelOverlap": false,
        "title": "Power Loss (dB)", "titleX": -92, "titleY": 549.5, "titleAngle": 270,
        "titleAlign": "center", "titleBaseline": "alphabetic",
        "titleFont": "Open Sans", "titleFontSize": 39, "titleFontWeight": "bold", "titleColor": "#c9c9c9"
      }
    },
    "color": {
      "field": "s", "type": "nominal",
      "scale": {"domain": ["Snipped Ground Wires", "Small Initial Hole", "Untouched Gore"], "range": ["#c8075e", "#fa5cab", "#c636d0"]},
      "legend": {
        "orient": "none", "legendX": 1460, "legendY": 260, "title": null, "padding": 0,
        "labelExpr": "datum.label == 'Snipped Ground Wires' ? ['Snipped', 'Ground', 'Wires'] : (datum.label == 'Small Initial Hole' ? ['Small Initial', 'Hole', ''] : ['Untouched', 'Gore', ''])",
        "labelFont": "Open Sans", "labelFontSize": 44, "labelColor": "#d9d9d9", "labelLimit": 700,
        "labelOffset": 6, "labelBaseline": "middle",
        "symbolType": "circle", "symbolSize": 150, "symbolStrokeWidth": 0, "symbolOpacity": 1,
        "rowPadding": 82
      }
    }
  }
}
